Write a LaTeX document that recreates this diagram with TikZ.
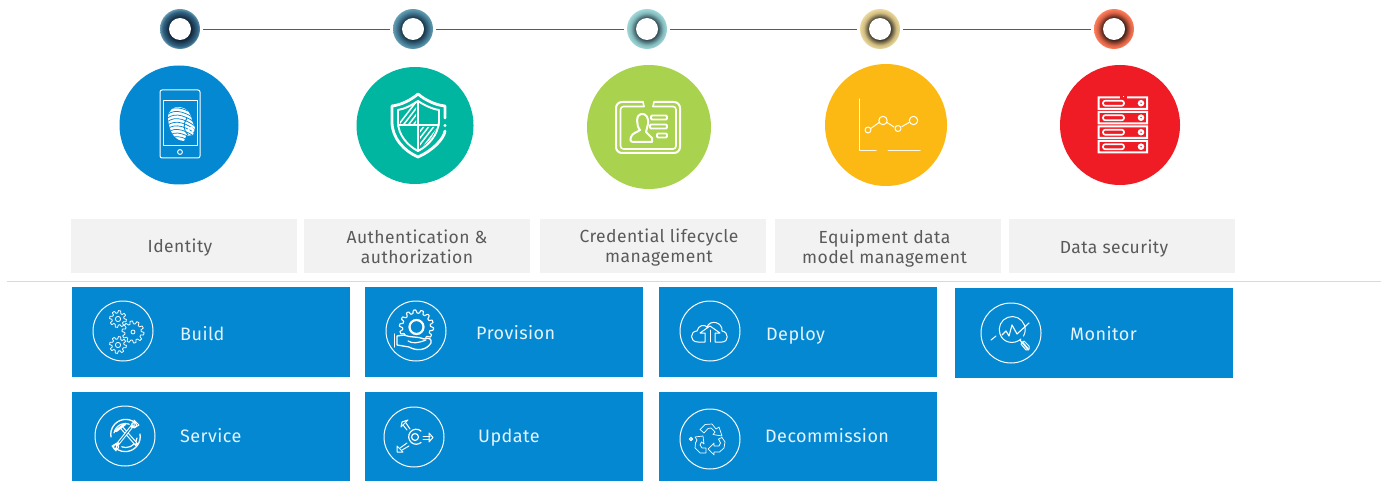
\documentclass[tikz,border=0pt]{standalone}
\usepackage{fontspec}
\setmainfont{Fira Sans}[LetterSpace=2.5]
\definecolor{skfblue}{HTML}{0388D1}
\definecolor{tealc}{HTML}{00B6A0}
\definecolor{limec}{HTML}{A9D24E}
\definecolor{amberc}{HTML}{FDB913}
\definecolor{redc}{HTML}{EF1C25}
\definecolor{greybox}{HTML}{F2F2F2}
\definecolor{greytxt}{HTML}{5A5A5A}
\definecolor{rulec}{HTML}{DADADA}
\definecolor{linkc}{HTML}{5A5A5A}
\definecolor{bluetxt}{HTML}{E6F3FB}
\pgfdeclareradialshading{ringA}{\pgfpointorigin}{rgb(0bp)=(.07,.15,.23); rgb(14bp)=(.07,.15,.23); rgb(22bp)=(.20,.40,.53); rgb(25bp)=(.40,.60,.68); rgb(50bp)=(.40,.60,.68)}
\pgfdeclareradialshading{ringB}{\pgfpointorigin}{rgb(0bp)=(.10,.22,.30); rgb(14bp)=(.10,.22,.30); rgb(22bp)=(.30,.53,.63); rgb(25bp)=(.40,.62,.70); rgb(50bp)=(.40,.62,.70)}
\pgfdeclareradialshading{ringC}{\pgfpointorigin}{rgb(0bp)=(.22,.33,.36); rgb(14bp)=(.22,.33,.36); rgb(20.5bp)=(.52,.74,.75); rgb(25bp)=(.63,.85,.85); rgb(50bp)=(.63,.85,.85)}
\pgfdeclareradialshading{ringD}{\pgfpointorigin}{rgb(0bp)=(.28,.26,.20); rgb(14bp)=(.28,.26,.20); rgb(20.5bp)=(.82,.74,.50); rgb(25bp)=(.92,.85,.62); rgb(50bp)=(.92,.85,.62)}
\pgfdeclareradialshading{ringE}{\pgfpointorigin}{rgb(0bp)=(.28,.14,.10); rgb(14bp)=(.28,.14,.10); rgb(20.5bp)=(.86,.38,.27); rgb(25bp)=(1,.50,.36); rgb(50bp)=(1,.50,.36)}
\tikzset{
  x=1pt,y=-1pt,
  ringdot/.style={circle,minimum size=40pt,inner sep=0pt,outer sep=3pt},
  hole/.style={circle,fill=white,minimum size=22pt,inner sep=0pt},
  link/.style={draw=linkc,line width=.9pt},
  bigdisc/.style={circle,inner sep=0pt,draw=none},
  greycard/.style={fill=greybox,minimum width=226pt,minimum height=54pt,inner sep=0pt},
  greytext/.style={inner sep=0pt,align=center,text=greytxt,font=\fontsize{17.5}{20}\selectfont},
  bluecard/.style={fill=skfblue,minimum width=278pt,minimum height=90pt,inner sep=0pt},
  cardtext/.style={anchor=base west,inner sep=0pt,text=bluetxt,font=\fontsize{18}{20}\selectfont},
  iconring/.style={circle,draw=white,line width=1pt,minimum size=60pt,inner sep=0pt},
  ic/.style={draw=white,line width=1.4pt,line join=round,line cap=round},
  icf/.style={draw=white,line width=.8pt,line join=round,line cap=round},
  ict/.style={draw=white,line width=2pt,line join=round,line cap=round},
}
\newcommand{\gearpath}[6][.8pt]{% width cx cy R a teeth
  \draw[icf,line width=#1] plot[domain=0:360,samples=121] ({#2+(#4+#5*max(min(2.5*sin(#6*\x),1),-1))*cos(\x)},{#3+(#4+#5*max(min(2.5*sin(#6*\x),1),-1))*sin(\x)}) -- cycle;
}
\begin{document}
\begin{tikzpicture}
\useasboundingbox (0,0) rectangle (1386,481);
% timeline
\foreach \n/\cx/\sh in {d1/180/ringA,d2/413/ringB,d3/647/ringC,d4/880/ringD,d5/1114/ringE}{
  \node[ringdot,shading=\sh] (\n) at (\cx,29) {};
  \node[hole] (\n h) at (\cx,29) {};
}
\draw[link] (d1) -- (d2);
\draw[link] (d2) -- (d3);
\draw[link] (d3) -- (d4);
\draw[link] (d4) -- (d5);
% discs
\node[bigdisc,fill=skfblue,minimum size=119pt] (c1) at (179,125) {};
\node[bigdisc,fill=tealc,minimum size=117pt] (c2) at (415,125.5) {};
\node[bigdisc,fill=limec,minimum size=124pt] (c3) at (649,127) {};
\node[bigdisc,fill=amberc,minimum size=122pt] (c4) at (886,125) {};
\node[bigdisc,fill=redc,minimum size=120pt] (c5) at (1120,125) {};
% phone icon
\draw[icf,line width=1pt,rounded corners=2pt] (160,90) rectangle (200,158);
\draw[icf,line width=1pt] (163,101) rectangle (197,146);
\draw[icf,line width=1pt] (180,152) circle[radius=2.4pt];
\begin{scope}
\clip (168,118) .. controls (168,110) and (174,106) .. (180,107) .. controls (187,108) and (191,113) .. (192,121) -- (195,128) -- (193,135) -- (186,136) -- (184,141) .. controls (176,141) and (169,133) .. (168,118) -- cycle;
\fill[white] (165,104) rectangle (197,143);
\foreach \dy in {0,3.6,...,36}{
  \draw[skfblue,line width=.75pt] (164,114+\dy) .. controls (172,105+\dy) and (182,106+\dy) .. (196,116+\dy);
}
\draw[skfblue,line width=1pt] (187,118) .. controls (183,124) and (183,130) .. (188,135);
\end{scope}
\draw[icf,line width=1.3pt] (191,130) circle[radius=2.4pt];
% shield icon
\draw[ict,line width=2.8pt] (445,118) -- (445,106) .. controls (435,105) and (425,100) .. (418,94) .. controls (411,100) and (401,105) .. (392,106) -- (392,122) .. controls (392,138) and (404,151) .. (418,157) .. controls (432,151) and (444,139) .. (445,131);
\fill[white] (445,125.5) circle[radius=1.7pt];
\draw[ic,line width=1.9pt] (418,101) .. controls (412,105) and (405,109) .. (398,110) -- (398,122) .. controls (398,135) and (408,146) .. (418,151) .. controls (428,146) and (438,135) .. (439,122) -- (439,110) .. controls (432,109) and (424,105) .. (418,101);
\draw[ic,line width=1.9pt] (418,101) -- (418,151);
\draw[ic,line width=1.9pt] (398,125) -- (439,125);
\begin{scope}
\clip (400,111) -- (416,103) -- (416,124) -- (400,124) -- cycle;
\foreach \k in {0,5,...,45}{\draw[ic,line width=1.5pt] (396+\k,128) -- (416+\k,102);}
\end{scope}
\begin{scope}
\clip (420,127) -- (437,127) -- (430,140) -- (420,148) -- cycle;
\foreach \k in {0,5,...,45}{\draw[ic,line width=1.5pt] (400+\k,151) -- (420+\k,125);}
\end{scope}
% credential icon
\draw[ic,line width=2pt,rounded corners=6pt] (643,102) -- (616,102) -- (616,153) -- (680,153) -- (680,102) -- (654,102);
\draw[ic,line width=1.6pt,rounded corners=3pt] (644,106.5) -- (620.5,106.5) -- (620.5,149) -- (676,149) -- (676,106.5) -- (653,106.5);
\draw[ic,line width=1.6pt] (643,102) -- (644,106.5);
\draw[ic,line width=1.6pt] (654,102) -- (653,106.5);
\draw[ic,line width=2pt,fill=limec] (634,142) .. controls (630,142) and (630,140) .. (631,137) .. controls (632,133) and (638,132) .. (640,130) .. controls (636,126) and (636,114) .. (641,114) .. controls (646,113) and (649,118) .. (648,124) -- (646,132) -- (652,138) -- (652,142) -- cycle;
\foreach \yy/\xa in {118/651,127/650,136/657}{
  \draw[ic,line width=1.8pt,rounded corners=1pt] (\xa,\yy-2.5) rectangle (667,\yy+1.5);
}
% chart icon
\draw[ic,line width=1pt,opacity=.9] (859,99) -- (859,151) -- (876,151);
\draw[ic,line width=1pt,opacity=.9] (888,151) -- (920,151);
\draw[ic,line width=1pt] (871,128.3) -- (879,122.6);
\draw[ic,line width=1pt] (887,122.5) -- (894,127);
\draw[ic,line width=1pt] (902,126.5) -- (909,122.5);
\draw[ic,line width=1pt] (868,130) circle[radius=3pt];
\draw[ic,line width=1pt] (883,120.5) circle[radius=4.2pt];
\draw[ic,line width=1pt] (898,128.5) circle[radius=3pt];
\draw[ic,line width=1pt] (913.5,120.5) circle[radius=4.2pt];
% server icon
\foreach \yy in {96.5,111,125.5,140}{
  \fill[white,even odd rule] (1097.5,\yy) rectangle (1148,\yy+13.5) (1099.6,\yy+2) rectangle (1146,\yy+11.5);
  \draw[ic,line width=1.7pt,rounded corners=2.3pt] (1103,\yy+4.2) rectangle (1124,\yy+9.3);
  \fill[white] (1141,\yy+6.7) circle[radius=3.3pt];
  \fill[redc] (1141,\yy+6.7) circle[radius=.8pt];
}
\fill[redc] (1120,95) rectangle (1127,99);
\fill[white] (1122.5,96) rectangle (1123.5,97.5);
% grey cards
\node[greycard] (g1) at (184,246) {};
\node[greycard] (g2) at (417,246) {};
\node[greycard] (g3) at (653,246) {};
\node[greycard] (g4) at (888,246) {};
\node[greycard] (g5) at (1122,246) {};
\node[greytext] (l1) at (180,247.5) {Identity};
\node[greytext] (l2) at (417,247) {Authentication \&\\authorization};
\node[greytext] (l3) at (659,247.5) {Credential lifecycle\\management};
\node[greytext] (l4) at (884.5,248.5) {Equipment data\\model management};
\node[greytext] (l5) at (1114,248.5) {Data security};
% rule
\coordinate (ruleL) at (7,281);
\coordinate (ruleR) at (1381,281);
\draw[rulec,line width=1pt] (ruleL) -- (ruleR);
% blue cards
\node[bluecard] (b1) at (211,332) {};
\node[bluecard] (b2) at (504,332) {};
\node[bluecard] (b3) at (798,332) {};
\node[bluecard] (b4) at (1094,333) {};
\node[bluecard,minimum height=89pt] (b5) at (211,436.5) {};
\node[bluecard,minimum height=89pt] (b6) at (504,436.5) {};
\node[bluecard,minimum height=89pt] (b7) at (798,436.5) {};
\node[iconring] (r1) at (123,331) {};
\node[iconring] (r2) at (416,331) {};
\node[iconring] (r3) at (710,331) {};
\node[iconring] (r4) at (1011,333) {};
\node[iconring] (r5) at (125,436) {};
\node[iconring] (r6) at (414,437) {};
\node[iconring] (r7) at (710,439) {};
\node[cardtext] (t1) at (180,340) {Build};
\node[cardtext] (t2) at (476,339) {Provision};
\node[cardtext] (t3) at (766,340) {Deploy};
\node[cardtext] (t4) at (1070,340) {Monitor};
\node[cardtext] (t5) at (180,442) {Service};
\node[cardtext] (t6) at (478,442) {Update};
\node[cardtext] (t7) at (765,442) {Decommission};
% build gears
\gearpath{118}{319}{7.2}{1.2}{8}
\draw[icf] (118,319) circle[radius=2.6pt];
\gearpath{133}{332}{9.6}{1.4}{10}
\draw[icf] (133,332) circle[radius=2pt];
\gearpath{118}{345}{7.2}{1.2}{8}
\draw[icf] (118,345) circle[radius=2.6pt];
% provision icon
\gearpath[1.1pt]{416.5}{327}{15.5}{1.6}{14}
\draw[ic,line width=2.2pt] (416.5,327) circle[radius=7pt];
\draw[icf,line width=1.3pt,fill=skfblue] (397,336) -- (404,335) .. controls (410,338) and (418,336) .. (424,339) .. controls (429,337) and (432,339) .. (431,343) .. controls (426,351) and (416,351) .. (409,347) -- (397,345) -- cycle;
\draw[icf,line width=1.2pt] (408,341) .. controls (413,344) and (418,343) .. (426,340);
\draw[icf,line width=1.3pt] (394.5,334) -- (394.5,347);
% deploy icon
\draw[icf,line width=1pt] (705,342) -- (698,342) .. controls (689,342) and (690,331) .. (697,331) .. controls (698,325) and (705,324) .. (707,327) .. controls (710,319) and (723,322) .. (722,331) .. controls (729,332) and (729,342) .. (722,342) -- (715,342) -- (715,333) -- (720,333) -- (710,326) -- (700,333) -- (705,333) -- cycle;
\draw[icf,line width=.8pt] (710,330) -- (710,342);
% service icon
\draw[ic,line width=1.3pt] (111,437) arc[start angle=190,end angle=50,radius=15pt];
\draw[ic,line width=1.2pt] (114,433) arc[start angle=170,end angle=70,radius=11.5pt];
\draw[ic,line width=1.3pt] (140,434) arc[start angle=10,end angle=-130,radius=15pt];
\draw[ic,line width=1.2pt] (137,438) arc[start angle=-10,end angle=-110,radius=11.5pt];
\draw[icf,line width=1pt] (134,420) -- (139,425) -- (134,428) -- cycle;
\draw[icf,line width=1pt] (116,451) -- (112,446) -- (117,443) -- cycle;
\draw[white,line width=3.6pt] (122,428) -- (137,445);
\draw[skfblue,line width=1.3pt] (122,428) -- (135.5,443.3);
\draw[white,line width=3.2pt] (133,425) -- (117,445);
\draw[skfblue,line width=1.1pt] (131,427.5) -- (119,442.5);
\draw[ic,line width=2.6pt] (116,431) -- (125,424);
\draw[icf,line width=1.2pt] (116,447) circle[radius=2.5pt];
\draw[icf,line width=1.2pt] (134,425) circle[radius=2.5pt];
% update icon
\draw[ic,line width=1.2pt] (415,437) circle[radius=3.5pt];
\draw[ic,line width=1.2pt] (421,431) arc[start angle=50,end angle=310,radius=7.5pt];
\draw[icf,line width=1pt] (423,436) -- (430,436);
\draw[icf,line width=1pt] (423,439) -- (430,439);
\draw[icf,line width=1pt] (429,433) -- (433,437.5) -- (429,442) -- cycle;
\draw[icf,line width=1pt] (407,430) -- (403,425);
\draw[icf,line width=1pt] (410,429) -- (406,423);
\draw[icf,line width=1pt] (402,422) -- (408,420) -- (401,427) -- cycle;
\draw[icf,line width=1pt] (407,443) -- (400,448);
\draw[icf,line width=1pt] (409,446) -- (402,450);
\draw[icf,line width=1pt] (397,446) -- (397,452) -- (403,452) -- cycle;
% decommission icon
\draw[icf] (691,439) circle[radius=1.8pt];
\fill[white] (691,439) circle[radius=1pt];
\draw[icf,line width=.7pt] (704,433) -- (700,429.5) -- (705,424.5) -- (712,424) -- (716,429) -- (719,427) -- (722,436) -- (713,434.5) -- (715,432) -- (711,428) -- (708,428.5) -- cycle;
\draw[icf,line width=.7pt] (695,437) -- (703,436) -- (704,444) -- (701.5,442) -- (700,445) -- (702,448) -- (706,448) -- (706,453) -- (700,453) -- (695,448) -- (695.5,443) -- (697,440) -- cycle;
\draw[icf,line width=.7pt] (708,449) -- (714,443) -- (714,446) -- (719,446) -- (720.5,443) -- (718.5,439) -- (722,437.5) -- (725,442) -- (724,448) -- (719.5,452) -- (714,452) -- (714,455) -- cycle;
% monitor icon
\draw[ic,line width=1pt] (1000,334) arc[start angle=200,end angle=-30,radius=13pt];
\draw[ic,line width=1pt] (1000,334) .. controls (1003,343) and (1014,345) .. (1021,339);
\draw[ic,line width=1pt] (991,340) -- (996,336);
\draw[ic,line width=1.1pt] (1002,335) -- (1006,331) -- (1009,336) -- (1012,325) -- (1017,334) -- (1029,323);
\draw[ic,line width=1.1pt] (1020,340) -- (1022,343);
\draw[ic,line width=1.8pt] (1022,342) -- (1028,349);
\draw[icf,line width=1pt] (1021,344) -- (1024,341) -- (1029,346) .. controls (1030,350) and (1028,351) .. (1026,350) -- cycle;
\end{tikzpicture}
\end{document}
